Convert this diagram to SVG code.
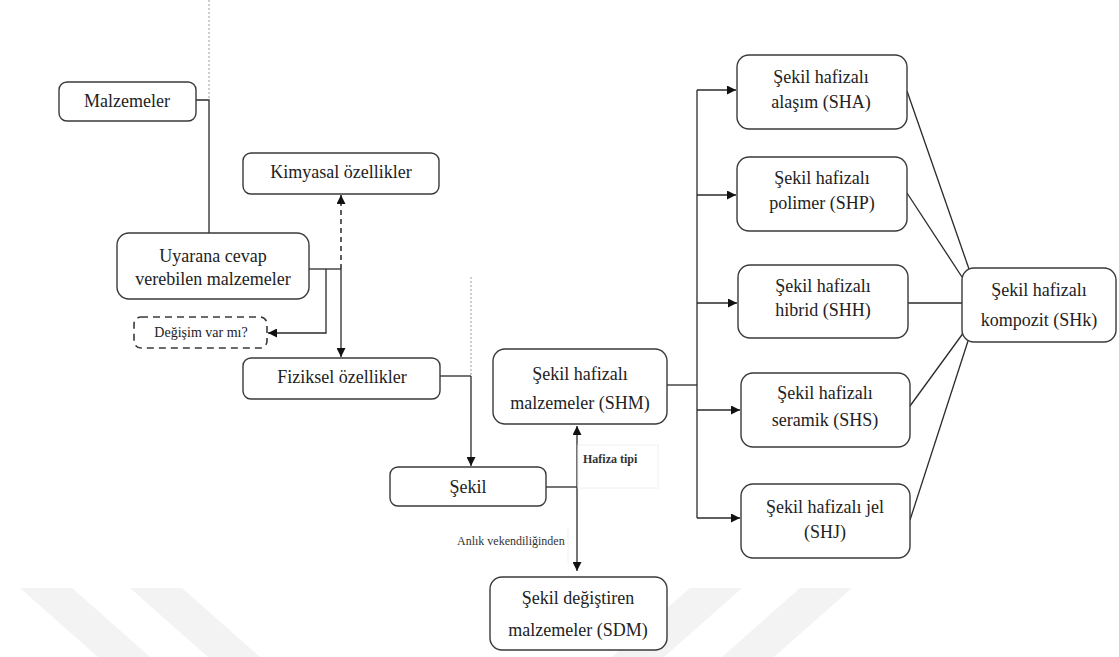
<svg xmlns="http://www.w3.org/2000/svg" width="1119" height="657" viewBox="0 0 1119 657">
<defs>
<marker id="ah" viewBox="0 0 10 10" refX="10" refY="5" markerWidth="9" markerHeight="9" markerUnits="userSpaceOnUse" orient="auto-start-reverse">
<path d="M0,0 L10,5 L0,10 Z" fill="#111"/>
</marker>
<style>
.box{fill:#fff;stroke:#3a3a3a;stroke-width:1.4}
.dbox{fill:#fff;stroke:#3a3a3a;stroke-width:1.6;stroke-dasharray:7 5}
.t{font-family:"Liberation Serif","Times New Roman",serif;font-size:18px;fill:#222;text-anchor:middle}
.s{font-family:"Liberation Serif","Times New Roman",serif;font-size:12px;fill:#333}
.ln{fill:none;stroke:#2a2a2a;stroke-width:1.3}
.dash{fill:none;stroke:#2a2a2a;stroke-width:1.5;stroke-dasharray:5 4}
.dot{fill:none;stroke:#9a9a9a;stroke-width:1;stroke-dasharray:2 2}
.wm{fill:#f3f3f3}
</style>
</defs>
<rect width="1119" height="657" fill="#fff"/>
<g id="watermark">
<polygon class="wm" points="20,588 72,588 150,657 98,657"/>
<polygon class="wm" points="130,588 182,588 260,657 208,657"/>
<polygon class="wm" points="690,588 742,588 664,657 612,657"/>
<polygon class="wm" points="800,588 852,588 774,657 722,657"/>
</g>
<g id="connectors">
<path class="dot" d="M209,0 V100"/>
<path class="ln" d="M196,100 H209 V233"/>
<path class="ln" d="M309,269 H341"/>
<path class="dash" d="M341,269 V195" marker-end="url(#ah)"/>
<path class="ln" d="M341,269 V357" marker-end="url(#ah)"/>
<path class="ln" d="M326,269 V333 H268" marker-end="url(#ah)"/>
<path class="ln" d="M440,376 H471"/>
<path class="dot" d="M471,277 V376"/>
<path class="ln" d="M471,376 V466" marker-end="url(#ah)"/>
<path class="ln" d="M546,487 H577"/>
<path class="ln" d="M577,426 V571" marker-start="url(#ah)" marker-end="url(#ah)"/>
<rect x="578" y="445" width="80" height="43" fill="none" stroke="#f0f0f0" stroke-width="1"/>
<path d="M568,529 V563" fill="none" stroke="#f0f0f0" stroke-width="1"/>
<path class="ln" d="M667,385 H697"/>
<path class="ln" d="M697,90 V518"/>
<path class="ln" d="M697,90 H736" marker-end="url(#ah)"/>
<path class="ln" d="M697,195 H736" marker-end="url(#ah)"/>
<path class="ln" d="M697,303 H737" marker-end="url(#ah)"/>
<path class="ln" d="M697,410 H740" marker-end="url(#ah)"/>
<path class="ln" d="M697,518 H740" marker-end="url(#ah)"/>
<path class="ln" d="M907,91 L969,269"/>
<path class="ln" d="M907,193 L962,277"/>
<path class="ln" d="M908,303 H962"/>
<path class="ln" d="M910,406 L964,332"/>
<path class="ln" d="M910,520 L968,341"/>
<text class="s" x="583" y="463" font-weight="bold">Hafiza tipi</text>
<text class="s" x="457" y="545">Anlık vekendiliğinden</text>
</g>
<g id="malzemeler">
<rect class="box" x="59" y="82" width="137" height="39" rx="8"/>
<text class="t" x="127" y="107">Malzemeler</text>
</g>
<g id="kimyasal">
<rect class="box" x="243" y="153" width="196" height="41" rx="8"/>
<text class="t" x="341" y="178">Kimyasal özellikler</text>
</g>
<g id="uyarana">
<rect class="box" x="117" y="233" width="192" height="66" rx="12"/>
<text class="t" x="213" y="262">Uyarana cevap</text>
<text class="t" x="213" y="285">verebilen malzemeler</text>
</g>
<g id="degisim">
<rect class="dbox" x="134" y="317" width="133" height="31" rx="7"/>
<text class="t" x="201" y="337" style="font-size:14px">Değişim var mı?</text>
</g>
<g id="fiziksel">
<rect class="box" x="243" y="358" width="197" height="41" rx="8"/>
<text class="t" x="342" y="383">Fiziksel özellikler</text>
</g>
<g id="sekil">
<rect class="box" x="390" y="467" width="156" height="39" rx="8"/>
<text class="t" x="468" y="493">Şekil</text>
</g>
<g id="shm">
<rect class="box" x="493" y="349" width="174" height="75" rx="12"/>
<text class="t" x="580" y="380">Şekil hafizalı</text>
<text class="t" x="580" y="409">malzemeler (SHM)</text>
</g>
<g id="sdm">
<rect class="box" x="490" y="577" width="177" height="73" rx="12"/>
<text class="t" x="578" y="604">Şekil değiştiren</text>
<text class="t" x="578" y="636">malzemeler (SDM)</text>
</g>
<g id="sha">
<rect class="box" x="737" y="55" width="170" height="74" rx="12"/>
<text class="t" x="821" y="83">Şekil hafizalı</text>
<text class="t" x="821" y="108">alaşım (SHA)</text>
</g>
<g id="shp">
<rect class="box" x="737" y="157" width="170" height="74" rx="12"/>
<text class="t" x="822" y="184">Şekil hafizalı</text>
<text class="t" x="822" y="209">polimer (SHP)</text>
</g>
<g id="shh">
<rect class="box" x="738" y="265" width="170" height="73" rx="12"/>
<text class="t" x="823" y="292">Şekil hafizalı</text>
<text class="t" x="823" y="316">hibrid (SHH)</text>
</g>
<g id="shs">
<rect class="box" x="741" y="373" width="169" height="74" rx="12"/>
<text class="t" x="825" y="399">Şekil hafizalı</text>
<text class="t" x="825" y="426">seramik (SHS)</text>
</g>
<g id="shj">
<rect class="box" x="741" y="484" width="169" height="74" rx="12"/>
<text class="t" x="825" y="513">Şekil hafizalı jel</text>
<text class="t" x="825" y="538">(SHJ)</text>
</g>
<g id="shk">
<rect class="box" x="962" y="268" width="154" height="74" rx="12"/>
<text class="t" x="1039" y="296">Şekil hafizalı</text>
<text class="t" x="1039" y="326">kompozit (SHk)</text>
</g>
</svg>
